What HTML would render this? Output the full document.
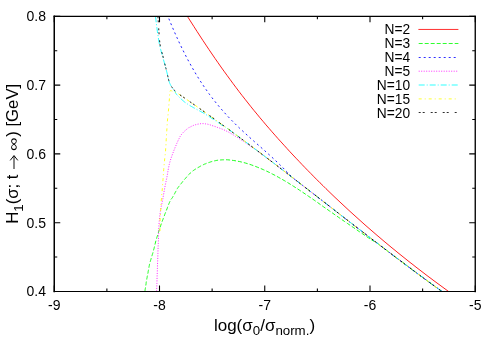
<!DOCTYPE html>
<html><head><meta charset="utf-8"><title>plot</title>
<style>html,body{margin:0;padding:0;background:#fff}svg{display:block;will-change:transform}text{font-family:"Liberation Sans",sans-serif;fill:#000}</style></head><body>
<svg width="498" height="350" viewBox="0 0 498 350">
<rect width="498" height="350" fill="#fff"/>
<defs><clipPath id="c"><rect x="54.2" y="16.4" width="421.0" height="275.1"/></clipPath></defs>
<g clip-path="url(#c)" fill="none" stroke-width="0.88" stroke-linejoin="round">
<path d="M185.0,12.4 L188.0,17.3 L191.0,22.0 L194.0,26.7 L197.0,31.4 L200.0,36.0 L203.0,40.6 L206.0,45.1 L209.0,49.6 L212.0,54.0 L215.0,58.4 L218.0,62.7 L221.0,67.0 L224.0,71.2 L227.0,75.3 L230.0,79.4 L233.0,83.5 L236.0,87.5 L239.0,91.5 L242.0,95.4 L245.0,99.2 L248.0,103.0 L251.0,106.8 L254.0,110.5 L257.0,114.1 L260.0,117.8 L263.0,121.3 L266.0,124.9 L269.0,128.3 L272.0,131.8 L275.0,135.2 L278.0,138.6 L281.0,141.9 L284.0,145.2 L287.0,148.5 L290.0,151.8 L293.0,155.0 L296.0,158.2 L299.0,161.3 L302.0,164.5 L305.0,167.6 L308.0,170.7 L311.0,173.7 L314.0,176.8 L317.0,179.8 L320.0,182.8 L323.0,185.7 L326.0,188.7 L329.0,191.6 L332.0,194.5 L335.0,197.4 L338.0,200.2 L341.0,203.0 L344.0,205.8 L347.0,208.6 L350.0,211.4 L353.0,214.1 L356.0,216.8 L359.0,219.5 L362.0,222.2 L365.0,224.9 L368.0,227.5 L371.0,230.1 L374.0,232.7 L377.0,235.3 L380.0,237.8 L383.0,240.4 L386.0,242.9 L389.0,245.4 L392.0,247.9 L395.0,250.3 L398.0,252.8 L401.0,255.2 L404.0,257.6 L407.0,260.0 L410.0,262.4 L413.0,264.7 L416.0,267.1 L419.0,269.4 L422.0,271.7 L425.0,274.0 L428.0,276.3 L431.0,278.5 L434.0,280.8 L437.0,283.0 L440.0,285.2 L443.0,287.4 L446.0,289.6 L449.0,291.8" stroke="#ff0000"/>
<path d="M144.9,291.4 L145.0,290.7 L145.1,289.8 L145.3,288.7 L145.5,287.5 L145.7,286.2 L145.9,284.9 L146.1,283.6 L146.2,282.3 L146.4,281.1 L146.6,280.1 L146.8,279.2 L146.9,278.3 L147.1,277.5 L147.2,276.7 L147.4,275.9 L147.5,275.1 L147.7,274.4 L147.8,273.7 L148.0,272.9 L148.1,272.1 L148.2,271.3 L148.4,270.5 L148.5,269.6 L148.7,268.8 L148.8,268.0 L149.0,267.2 L149.1,266.4 L149.3,265.6 L149.4,264.8 L149.6,264.0 L149.8,263.3 L150.0,262.5 L150.2,261.8 L150.4,261.1 L150.6,260.4 L150.8,259.7 L151.0,259.1 L151.2,258.4 L151.4,257.7 L151.6,257.0 L151.8,256.3 L152.0,255.7 L152.2,255.0 L152.4,254.4 L152.6,253.7 L152.8,253.1 L153.0,252.4 L153.2,251.7 L153.4,250.9 L153.6,250.1 L153.8,249.2 L154.1,248.3 L154.3,247.3 L154.6,246.2 L154.8,245.2 L155.1,244.1 L155.3,243.1 L155.6,242.0 L155.8,241.0 L156.1,240.1 L156.3,239.2 L156.6,238.4 L156.8,237.6 L157.1,236.8 L157.3,236.0 L157.6,235.2 L157.8,234.4 L158.1,233.6 L158.3,232.8 L158.6,232.0 L158.9,231.1 L159.1,230.3 L159.4,229.5 L159.7,228.6 L160.0,227.7 L160.3,226.9 L160.6,225.9 L160.9,225.0 L161.2,224.0 L161.6,223.0 L162.0,221.9 L162.4,220.8 L162.9,219.6 L163.3,218.4 L163.8,217.1 L164.3,215.9 L164.7,214.6 L165.2,213.4 L165.7,212.2 L166.1,211.1 L166.5,210.0 L167.0,208.9 L167.4,207.7 L167.8,206.6 L168.2,205.6 L168.6,204.5 L169.0,203.5 L169.4,202.6 L169.8,201.8 L170.1,201.0 L170.4,200.4 L170.7,199.9 L170.9,199.5 L171.2,199.1 L171.4,198.9 L171.6,198.6 L171.9,198.3 L172.1,198.0 L172.4,197.6 L172.7,197.1 L173.0,196.5 L173.4,195.8 L173.8,195.1 L174.3,194.3 L174.7,193.5 L175.1,192.7 L175.6,191.9 L175.9,191.2 L176.3,190.6 L176.6,190.0 L176.8,189.6 L177.0,189.2 L177.1,189.0 L177.3,188.8 L177.3,188.6 L177.4,188.4 L177.6,188.2 L177.7,188.0 L178.0,187.6 L178.3,187.2 L178.7,186.7 L179.1,186.1 L179.6,185.4 L180.2,184.7 L180.8,184.0 L181.4,183.3 L182.0,182.5 L182.6,181.7 L183.3,180.9 L183.9,180.2 L184.5,179.4 L185.2,178.7 L185.9,177.9 L186.6,177.0 L187.3,176.2 L188.0,175.4 L188.7,174.6 L189.5,173.9 L190.2,173.2 L190.9,172.5 L191.6,171.9 L192.3,171.3 L193.0,170.8 L193.7,170.3 L194.4,169.8 L195.1,169.4 L195.8,168.9 L196.5,168.5 L197.2,168.0 L198.0,167.6 L198.8,167.1 L199.6,166.7 L200.4,166.2 L201.2,165.8 L202.0,165.4 L202.9,165.0 L203.7,164.5 L204.6,164.1 L205.5,163.8 L206.4,163.4 L207.3,163.0 L208.3,162.7 L209.3,162.4 L210.3,162.0 L211.3,161.7 L212.3,161.4 L213.3,161.2 L214.3,160.9 L215.3,160.7 L216.2,160.5 L217.1,160.3 L218.1,160.2 L219.1,160.1 L220.1,160.0 L221.1,159.9 L222.0,159.9 L222.8,159.8 L223.6,159.8 L224.2,159.7 L224.7,159.7 L227.7,159.8 L230.7,160.1 L233.7,160.5 L236.7,161.0 L239.7,161.6 L242.7,162.3 L245.7,163.1 L248.7,164.0 L251.7,165.0 L254.7,166.1 L257.7,167.3 L260.7,168.5 L263.7,169.8 L266.7,171.2 L269.7,172.6 L272.7,174.2 L275.7,175.7 L278.7,177.4 L281.7,179.1 L284.7,180.8 L287.7,182.6 L290.7,184.5 L293.7,186.4 L296.7,188.3 L299.7,190.3 L302.7,192.3 L305.7,194.3 L308.7,196.4 L311.7,198.4 L314.7,200.5 L317.7,202.6 L320.7,204.8 L323.7,206.9 L326.7,209.0 L329.7,211.1 L332.7,213.2 L335.7,215.3 L338.7,217.4 L341.7,219.5 L344.7,221.6 L347.7,223.6 L350.7,225.7 L353.7,227.7 L356.7,229.8 L359.7,231.9 L362.7,233.9 L365.7,236.0 L368.7,238.0 L371.7,240.1 L376.0,242.2 L379.0,244.5 L382.0,246.8 L385.0,249.1 L388.0,251.4 L391.0,253.7 L394.0,256.0 L397.0,258.2 L400.0,260.5 L403.0,262.7 L406.0,265.0 L409.0,267.2 L412.0,269.5 L415.0,271.7 L418.0,274.0 L421.0,276.2 L424.0,278.4 L427.0,280.6 L430.0,282.8 L433.0,285.0 L436.0,287.2 L439.0,289.3 L442.0,291.5 L445.0,293.7" stroke="#00ff00" stroke-dasharray="4 2"/>
<path d="M167.0,14.0 L169.5,20.3 L172.0,26.3 L174.5,32.1 L177.0,37.7 L179.5,43.1 L182.0,48.3 L184.5,53.3 L187.0,58.2 L189.5,62.8 L192.0,67.3 L194.5,71.6 L197.0,75.8 L199.5,79.8 L202.0,83.6 L204.5,87.3 L207.0,90.9 L209.5,94.4 L212.0,97.7 L214.5,100.9 L217.0,104.0 L219.5,107.0 L222.0,109.9 L224.5,112.7 L227.0,115.5 L229.5,118.1 L232.0,120.7 L234.5,123.2 L237.0,125.7 L239.5,128.1 L242.0,130.4 L244.5,132.7 L247.0,135.0 L249.5,137.3 L252.0,139.5 L254.5,141.7 L257.0,143.9 L259.5,146.1 L262.0,148.3 L264.5,150.5 L267.0,152.8 L269.5,155.0 L272.0,157.3 L274.5,159.6 L277.0,162.0 L279.5,164.4 L282.0,166.8 L284.5,169.4 L287.0,171.9 L289.5,174.6 L294.0,178.8 L297.0,181.1 L300.0,183.4 L303.0,185.7 L306.0,188.1 L309.0,190.4 L312.0,192.7 L315.0,195.0 L318.0,197.4 L321.0,199.7 L324.0,202.0 L327.0,204.3 L330.0,206.7 L333.0,209.0 L336.0,211.3 L339.0,213.7 L342.0,216.0 L345.0,218.3 L348.0,220.6 L351.0,223.0 L354.0,225.3 L357.0,227.6 L360.0,229.9 L363.0,232.2 L366.0,234.5 L369.0,236.9 L372.0,239.2 L375.0,241.5 L378.0,243.8 L381.0,246.1 L384.0,248.4 L387.0,250.6 L390.0,252.9 L393.0,255.2 L396.0,257.5 L399.0,259.7 L402.0,262.0 L405.0,264.3 L408.0,266.5 L411.0,268.7 L414.0,271.0 L417.0,273.2 L420.0,275.4 L423.0,277.6 L426.0,279.9 L429.0,282.1 L432.0,284.2 L435.0,286.4 L438.0,288.6 L441.0,290.8 L444.0,292.9" stroke="#0000ff" stroke-dasharray="2 3"/>
<path d="M156.6,291.4 L156.7,289.3 L156.8,286.7 L156.9,283.5 L157.0,280.0 L157.1,276.2 L157.3,272.2 L157.4,268.2 L157.5,264.3 L157.7,260.5 L157.8,257.0 L157.9,253.6 L158.0,250.2 L158.1,246.7 L158.3,243.2 L158.4,239.8 L158.5,236.5 L158.6,233.3 L158.7,230.3 L158.9,227.5 L159.0,225.0 L159.1,222.8 L159.3,220.8 L159.4,219.1 L159.6,217.6 L159.8,216.2 L159.9,214.9 L160.1,213.7 L160.2,212.5 L160.4,211.3 L160.6,210.1 L160.8,208.9 L161.0,207.8 L161.2,206.8 L161.4,205.8 L161.6,204.8 L161.8,203.9 L162.0,203.0 L162.2,202.0 L162.4,201.0 L162.6,200.0 L162.8,198.9 L163.0,197.8 L163.2,196.7 L163.4,195.5 L163.6,194.4 L163.8,193.2 L164.0,192.0 L164.2,190.8 L164.4,189.7 L164.6,188.5 L164.8,187.3 L165.1,186.2 L165.3,185.0 L165.5,183.9 L165.8,182.7 L166.0,181.6 L166.3,180.4 L166.5,179.2 L166.8,178.0 L167.0,176.7 L167.2,175.4 L167.5,174.1 L167.7,172.7 L167.9,171.3 L168.2,169.9 L168.4,168.5 L168.7,167.1 L169.0,165.7 L169.3,164.4 L169.6,163.0 L170.0,161.7 L170.4,160.3 L170.8,159.0 L171.3,157.6 L171.7,156.3 L172.2,155.0 L172.7,153.7 L173.2,152.4 L173.6,151.2 L174.1,150.0 L174.6,148.8 L175.0,147.7 L175.5,146.5 L176.0,145.4 L176.4,144.3 L176.9,143.2 L177.4,142.2 L177.8,141.2 L178.2,140.3 L178.6,139.5 L179.0,138.8 L179.3,138.1 L179.6,137.5 L179.8,137.0 L180.1,136.5 L180.4,136.1 L180.6,135.6 L180.9,135.2 L181.2,134.8 L181.6,134.3 L182.0,133.8 L182.4,133.3 L182.9,132.8 L183.3,132.4 L183.8,131.9 L184.3,131.4 L184.7,131.0 L185.2,130.6 L185.7,130.2 L186.1,129.8 L186.5,129.4 L186.9,129.1 L187.3,128.8 L187.7,128.5 L188.1,128.2 L188.5,128.0 L188.8,127.7 L189.2,127.5 L189.7,127.2 L190.1,127.0 L190.6,126.8 L191.0,126.5 L191.5,126.3 L192.0,126.1 L192.5,125.9 L193.0,125.6 L193.5,125.4 L194.0,125.3 L194.6,125.1 L195.1,124.9 L195.7,124.7 L196.3,124.6 L196.9,124.4 L197.5,124.2 L198.2,124.1 L198.8,124.0 L199.4,123.8 L200.0,123.7 L200.6,123.7 L201.2,123.6 L201.7,123.6 L202.3,123.6 L202.8,123.6 L203.3,123.6 L203.8,123.6 L204.3,123.7 L204.7,123.8 L205.2,123.8 L205.7,123.9 L206.2,124.0 L206.7,124.1 L207.0,124.1 L207.4,124.2 L207.7,124.2 L208.1,124.3 L208.5,124.4 L209.0,124.5 L209.5,124.7 L210.2,124.9 L211.1,125.2 L212.1,125.6 L213.4,126.0 L214.7,126.4 L216.2,126.9 L217.7,127.5 L219.3,128.0 L220.8,128.6 L222.3,129.2 L223.8,129.8 L225.1,130.4 L226.3,131.0 L227.6,131.6 L228.7,132.2 L229.9,132.9 L231.0,133.5 L232.1,134.2 L233.2,134.8 L234.3,135.5 L235.3,136.2 L236.4,136.8 L237.5,137.5 L238.5,138.1 L239.6,138.8 L240.6,139.5 L241.6,140.1 L242.6,140.8 L243.6,141.4 L244.5,142.1 L245.4,142.7 L246.2,143.2 L247.0,143.7 L247.7,144.2 L248.4,144.7 L249.1,145.2 L249.7,145.6 L250.3,146.1 L250.8,146.4 L251.3,146.8 L251.7,147.1 L252.0,147.3 L255.0,149.0 L258.0,151.3 L261.0,153.5 L264.0,155.8 L267.0,158.1 L270.0,160.4 L273.0,162.6 L276.0,164.9 L279.0,167.2 L282.0,169.5 L285.0,171.8 L288.0,174.1 L291.0,176.5 L294.0,178.8 L297.0,181.1 L300.0,183.4 L303.0,185.7 L306.0,188.1 L309.0,190.4 L312.0,192.7 L315.0,195.0 L318.0,197.4 L321.0,199.7 L324.0,202.0 L327.0,204.3 L330.0,206.7 L333.0,209.0 L336.0,211.3 L339.0,213.7 L342.0,216.0 L345.0,218.3 L348.0,220.6 L351.0,223.0 L354.0,225.3 L357.0,227.6 L360.0,229.9 L363.0,232.2 L366.0,234.5 L369.0,236.9 L372.0,239.2 L375.0,241.5 L378.0,243.8 L381.0,246.1 L384.0,248.4 L387.0,250.6 L390.0,252.9 L393.0,255.2 L396.0,257.5 L399.0,259.7 L402.0,262.0 L405.0,264.3 L408.0,266.5 L411.0,268.7 L414.0,271.0 L417.0,273.2 L420.0,275.4 L423.0,277.6 L426.0,279.9 L429.0,282.1 L432.0,284.2 L435.0,286.4 L438.0,288.6 L441.0,290.8 L444.0,292.9" stroke="#ff00ff" stroke-dasharray="1 1.5"/>
<path d="M155.5,16.3 L155.6,17.1 L155.7,18.1 L155.9,19.4 L156.0,20.7 L156.2,22.2 L156.4,23.8 L156.6,25.4 L156.8,27.0 L157.0,28.5 L157.2,30.0 L157.4,31.5 L157.6,33.0 L157.9,34.6 L158.1,36.1 L158.3,37.7 L158.6,39.3 L158.8,40.8 L159.1,42.3 L159.3,43.7 L159.6,45.0 L159.9,46.2 L160.1,47.3 L160.4,48.4 L160.6,49.4 L160.9,50.3 L161.1,51.2 L161.4,52.2 L161.7,53.1 L161.9,54.0 L162.2,55.0 L162.5,56.0 L162.8,57.0 L163.0,58.1 L163.3,59.1 L163.6,60.2 L163.9,61.2 L164.2,62.2 L164.5,63.2 L164.7,64.2 L165.0,65.1 L165.2,66.0 L165.5,66.8 L165.7,67.7 L165.9,68.5 L166.1,69.3 L166.3,70.0 L166.5,70.8 L166.7,71.6 L166.9,72.3 L167.1,73.1 L167.3,73.9 L167.5,74.7 L167.6,75.5 L167.8,76.2 L168.0,77.0 L168.1,77.8 L168.3,78.5 L168.5,79.2 L168.6,79.9 L168.8,80.5 L169.0,81.1 L169.1,81.6 L169.3,82.1 L169.5,82.6 L169.7,83.0 L169.8,83.4 L170.0,83.8 L170.2,84.2 L170.4,84.6 L170.6,85.0 L170.8,85.4 L171.0,85.8 L171.2,86.1 L171.5,86.5 L171.7,86.8 L171.9,87.2 L172.1,87.5 L172.4,87.8 L172.6,88.2 L172.8,88.5 L173.0,88.8 L173.2,89.1 L173.5,89.4 L173.7,89.7 L173.9,90.0 L174.1,90.4 L174.3,90.7 L174.6,91.0 L174.8,91.3 L175.0,91.6 L175.2,91.9 L175.3,92.2 L175.5,92.5 L175.6,92.8 L175.8,93.1 L175.9,93.5 L176.1,93.8 L176.4,94.2 L176.7,94.6 L177.1,95.1 L177.6,95.6 L178.2,96.2 L178.9,96.9 L179.6,97.6 L180.4,98.3 L181.1,99.0 L181.9,99.7 L182.7,100.4 L183.4,101.0 L184.1,101.6 L184.7,102.1 L185.4,102.6 L186.0,103.0 L186.6,103.4 L187.2,103.8 L187.7,104.2 L188.3,104.6 L188.9,104.9 L189.4,105.3 L190.0,105.6 L190.5,105.9 L191.0,106.2 L191.5,106.5 L192.0,106.8 L192.4,107.0 L192.9,107.3 L193.4,107.6 L193.9,107.9 L194.5,108.2 L195.2,108.6 L195.9,109.0 L196.7,109.4 L197.6,109.9 L198.5,110.3 L199.4,110.8 L200.3,111.3 L201.2,111.8 L202.2,112.3 L203.2,112.9 L204.1,113.4 L205.1,114.0 L206.0,114.6 L207.0,115.2 L208.0,115.9 L209.1,116.5 L210.1,117.2 L211.1,117.8 L212.0,118.5 L213.0,119.1 L213.9,119.7 L214.8,120.3 L215.8,120.9 L216.7,121.6 L217.7,122.2 L218.6,122.8 L219.4,123.4 L220.2,124.0 L220.9,124.5 L221.5,124.9 L222.0,125.2 L225.0,126.7 L228.0,128.9 L231.0,131.1 L234.0,133.3 L237.0,135.5 L240.0,137.8 L243.0,140.0 L246.0,142.2 L249.0,144.5 L252.0,146.7 L255.0,149.0 L258.0,151.3 L261.0,153.5 L264.0,155.8 L267.0,158.1 L270.0,160.4 L273.0,162.6 L276.0,164.9 L279.0,167.2 L282.0,169.5 L285.0,171.8 L288.0,174.1 L291.0,176.5 L294.0,178.8 L297.0,181.1 L300.0,183.4 L303.0,185.7 L306.0,188.1 L309.0,190.4 L312.0,192.7 L315.0,195.0 L318.0,197.4 L321.0,199.7 L324.0,202.0 L327.0,204.3 L330.0,206.7 L333.0,209.0 L336.0,211.3 L339.0,213.7 L342.0,216.0 L345.0,218.3 L348.0,220.6 L351.0,223.0 L354.0,225.3 L357.0,227.6 L360.0,229.9 L363.0,232.2 L366.0,234.5 L369.0,236.9 L372.0,239.2 L375.0,241.5 L378.0,243.8 L381.0,246.1 L384.0,248.4 L387.0,250.6 L390.0,252.9 L393.0,255.2 L396.0,257.5 L399.0,259.7 L402.0,262.0 L405.0,264.3 L408.0,266.5 L411.0,268.7 L414.0,271.0 L417.0,273.2 L420.0,275.4 L423.0,277.6 L426.0,279.9 L429.0,282.1 L432.0,284.2 L435.0,286.4 L438.0,288.6 L441.0,290.8 L444.0,292.9" stroke="#00ffff" stroke-dasharray="6 2 1 2"/>
<path d="M160.0,231.0 L160.0,230.3 L160.0,229.5 L160.0,228.5 L160.0,227.3 L160.0,226.1 L160.0,224.9 L160.0,223.6 L160.0,222.3 L160.1,221.1 L160.1,220.0 L160.1,219.0 L160.2,217.9 L160.2,216.9 L160.3,215.9 L160.4,214.9 L160.4,214.0 L160.5,213.0 L160.6,212.0 L160.6,211.0 L160.7,210.0 L160.8,209.0 L160.8,208.0 L160.9,207.0 L160.9,206.0 L161.0,205.0 L161.0,204.0 L161.1,203.0 L161.2,202.0 L161.2,201.0 L161.3,200.0 L161.4,199.0 L161.5,198.0 L161.5,197.1 L161.6,196.1 L161.7,195.1 L161.8,194.1 L161.9,193.1 L162.0,192.1 L162.1,191.1 L162.2,190.0 L162.3,188.9 L162.4,187.8 L162.5,186.6 L162.6,185.5 L162.6,184.3 L162.7,183.1 L162.8,181.9 L162.9,180.7 L163.0,179.4 L163.1,178.1 L163.2,176.8 L163.3,175.4 L163.4,174.0 L163.5,172.6 L163.6,171.2 L163.7,169.7 L163.8,168.3 L164.0,166.8 L164.1,165.4 L164.2,164.0 L164.3,162.6 L164.5,161.3 L164.6,160.0 L164.7,158.7 L164.9,157.4 L165.0,156.0 L165.2,154.6 L165.3,153.2 L165.5,151.6 L165.6,150.0 L165.7,148.2 L165.9,146.2 L166.0,144.2 L166.1,142.0 L166.2,139.8 L166.4,137.6 L166.5,135.5 L166.6,133.5 L166.7,131.7 L166.8,130.1 L166.9,128.7 L167.0,127.5 L167.0,126.3 L167.1,125.3 L167.2,124.4 L167.2,123.6 L167.3,122.7 L167.3,121.9 L167.4,121.0 L167.5,120.0 L167.6,119.0 L167.7,118.0 L167.8,117.0 L167.9,116.0 L168.0,115.0 L168.1,114.0 L168.2,113.0 L168.3,112.0 L168.4,111.0 L168.5,110.0 L168.6,109.0 L168.7,108.0 L168.8,107.0 L168.8,105.9 L168.9,104.9 L169.0,103.9 L169.1,102.9 L169.1,101.9 L169.2,101.0 L169.3,100.0 L169.4,99.0 L169.4,98.0 L169.5,97.0 L169.5,95.9 L169.6,94.9 L169.7,94.0 L169.7,93.1 L169.8,92.3 L170.0,91.6 L170.1,91.1 L170.3,90.7 L170.5,90.5 L170.7,90.5 L170.9,90.5 L171.2,90.6 L171.4,90.7 L171.7,90.9 L171.9,91.1 L172.2,91.2 L172.5,91.3 L172.8,91.4 L173.1,91.5 L173.5,91.6 L173.8,91.8 L174.2,91.9 L174.5,92.1 L174.9,92.2 L175.2,92.3 L175.4,92.4 L175.6,92.5 L178.0,93.5 L181.0,95.6 L184.0,97.6 L187.0,99.7 L190.0,101.8 L193.0,103.9 L196.0,105.9 L199.0,108.1 L202.0,110.2 L205.0,112.3 L208.0,114.4 L211.0,116.6 L214.0,118.7 L217.0,120.9 L220.0,123.1 L223.0,125.3 L226.0,127.4 L229.0,129.6 L232.0,131.9 L235.0,134.1 L238.0,136.3 L241.0,138.5 L244.0,140.7 L247.0,143.0 L250.0,145.2 L253.0,147.5 L256.0,149.7 L259.0,152.0 L262.0,154.3 L265.0,156.6 L268.0,158.8 L271.0,161.1 L274.0,163.4 L277.0,165.7 L280.0,168.0 L283.0,170.3 L286.0,172.6 L289.0,174.9 L292.0,177.2 L295.0,179.5 L298.0,181.9 L301.0,184.2 L304.0,186.5 L307.0,188.8 L310.0,191.2 L313.0,193.5 L316.0,195.8 L319.0,198.1 L322.0,200.5 L325.0,202.8 L328.0,205.1 L331.0,207.4 L334.0,209.8 L337.0,212.1 L340.0,214.4 L343.0,216.8 L346.0,219.1 L349.0,221.4 L352.0,223.7 L355.0,226.1 L358.0,228.4 L361.0,230.7 L364.0,233.0 L367.0,235.3 L370.0,237.6 L373.0,239.9 L376.0,242.2 L379.0,244.5 L382.0,246.8 L385.0,249.1 L388.0,251.4 L391.0,253.7 L394.0,256.0 L397.0,258.2 L400.0,260.5 L403.0,262.7 L406.0,265.0 L409.0,267.2 L412.0,269.5 L415.0,271.7 L418.0,274.0 L421.0,276.2 L424.0,278.4 L427.0,280.6 L430.0,282.8 L433.0,285.0 L436.0,287.2 L439.0,289.3 L442.0,291.5 L445.0,293.7" stroke="#ffff00" stroke-dasharray="3 3 1 3"/>
<path d="M157.9,16.3 L158.0,17.1 L158.0,18.1 L158.1,19.4 L158.2,20.7 L158.3,22.2 L158.4,23.8 L158.5,25.4 L158.6,27.0 L158.7,28.5 L158.8,30.0 L158.9,31.5 L159.0,33.0 L159.1,34.6 L159.2,36.1 L159.4,37.7 L159.5,39.3 L159.6,40.8 L159.8,42.3 L159.9,43.7 L160.1,45.0 L160.3,46.2 L160.5,47.3 L160.8,48.4 L161.0,49.4 L161.3,50.3 L161.5,51.2 L161.8,52.2 L162.1,53.1 L162.3,54.0 L162.6,55.0 L162.9,56.0 L163.1,57.0 L163.4,58.1 L163.6,59.1 L163.9,60.2 L164.1,61.2 L164.4,62.2 L164.6,63.2 L164.9,64.2 L165.1,65.1 L165.3,66.0 L165.5,66.8 L165.7,67.7 L166.0,68.5 L166.1,69.3 L166.3,70.0 L166.5,70.8 L166.7,71.6 L166.9,72.3 L167.1,73.1 L167.3,73.9 L167.5,74.7 L167.6,75.5 L167.8,76.2 L168.0,77.0 L168.1,77.8 L168.3,78.5 L168.5,79.2 L168.6,79.9 L168.8,80.5 L169.0,81.1 L169.1,81.6 L169.3,82.1 L169.5,82.6 L169.7,83.0 L169.8,83.4 L170.0,83.8 L170.2,84.2 L170.4,84.6 L170.6,85.0 L170.8,85.4 L171.0,85.7 L171.2,86.1 L171.4,86.4 L171.6,86.7 L171.9,87.0 L172.1,87.3 L172.3,87.7 L172.6,88.0 L172.8,88.3 L173.1,88.6 L173.4,89.0 L173.7,89.4 L174.0,89.8 L174.3,90.2 L174.7,90.5 L174.9,90.9 L175.2,91.2 L175.4,91.4 L175.6,91.6 L178.0,93.5 L181.0,95.6 L184.0,97.6 L187.0,99.7 L190.0,101.8 L193.0,103.9 L196.0,105.9 L199.0,108.1 L202.0,110.2 L205.0,112.3 L208.0,114.4 L211.0,116.6 L214.0,118.7 L217.0,120.9 L220.0,123.1 L223.0,125.3 L226.0,127.4 L229.0,129.6 L232.0,131.9 L235.0,134.1 L238.0,136.3 L241.0,138.5 L244.0,140.7 L247.0,143.0 L250.0,145.2 L253.0,147.5 L256.0,149.7 L259.0,152.0 L262.0,154.3 L265.0,156.6 L268.0,158.8 L271.0,161.1 L274.0,163.4 L277.0,165.7 L280.0,168.0 L283.0,170.3 L286.0,172.6 L289.0,174.9 L292.0,177.2 L295.0,179.5 L298.0,181.9 L301.0,184.2 L304.0,186.5 L307.0,188.8 L310.0,191.2 L313.0,193.5 L316.0,195.8 L319.0,198.1 L322.0,200.5 L325.0,202.8 L328.0,205.1 L331.0,207.4 L334.0,209.8 L337.0,212.1 L340.0,214.4 L343.0,216.8 L346.0,219.1 L349.0,221.4 L352.0,223.7 L355.0,226.1 L358.0,228.4 L361.0,230.7 L364.0,233.0 L367.0,235.3 L370.0,237.6 L373.0,239.9 L376.0,242.2 L379.0,244.5 L382.0,246.8 L385.0,249.1 L388.0,251.4 L391.0,253.7 L394.0,256.0 L397.0,258.2 L400.0,260.5 L403.0,262.7 L406.0,265.0 L409.0,267.2 L412.0,269.5 L415.0,271.7 L418.0,274.0 L421.0,276.2 L424.0,278.4 L427.0,280.6 L430.0,282.8 L433.0,285.0 L436.0,287.2 L439.0,289.3 L442.0,291.5 L445.0,293.7" stroke="#000000" stroke-dasharray="2 2 2 6"/>
</g>
<g stroke="#000" fill="none" stroke-linecap="square">
<path d="M54.25,16.35 H475.25" stroke-width="1.3"/>
<path d="M54.25,291.45 H475.25" stroke-width="1.1"/>
<path d="M54.25,16.35 V291.45" stroke-width="1.5"/>
<path d="M475.25,16.35 V291.45" stroke-width="1.35"/>
</g>
<path d="M54.25,291.45 v-6.0 M54.25,16.35 v6.0 M106.88,291.45 v-3.0 M106.88,16.35 v3.0 M159.50,291.45 v-6.0 M159.50,16.35 v6.0 M212.12,291.45 v-3.0 M212.12,16.35 v3.0 M264.75,291.45 v-6.0 M264.75,16.35 v6.0 M317.38,291.45 v-3.0 M317.38,16.35 v3.0 M370.00,291.45 v-6.0 M370.00,16.35 v6.0 M422.62,291.45 v-3.0 M422.62,16.35 v3.0 M475.25,291.45 v-6.0 M475.25,16.35 v6.0 M54.25,16.35 h6.0 M475.25,16.35 h-6.0 M54.25,50.74 h3.0 M475.25,50.74 h-3.0 M54.25,85.12 h6.0 M475.25,85.12 h-6.0 M54.25,119.51 h3.0 M475.25,119.51 h-3.0 M54.25,153.90 h6.0 M475.25,153.90 h-6.0 M54.25,188.29 h3.0 M475.25,188.29 h-3.0 M54.25,222.67 h6.0 M475.25,222.67 h-6.0 M54.25,257.06 h3.0 M475.25,257.06 h-3.0 M54.25,291.45 h6.0 M475.25,291.45 h-6.0" stroke="#000" stroke-width="1.08" fill="none"/>
<g font-size="14">
<text x="54.2" y="310" text-anchor="middle">-9</text>
<text x="159.5" y="310" text-anchor="middle">-8</text>
<text x="264.8" y="310" text-anchor="middle">-7</text>
<text x="370.0" y="310" text-anchor="middle">-6</text>
<text x="475.2" y="310" text-anchor="middle">-5</text>
<text x="46" y="21.2" text-anchor="end">0.8</text>
<text x="46" y="90.0" text-anchor="end">0.7</text>
<text x="46" y="158.8" text-anchor="end">0.6</text>
<text x="46" y="227.6" text-anchor="end">0.5</text>
<text x="46" y="296.3" text-anchor="end">0.4</text>
<text x="410.1" y="34.4" text-anchor="end" font-size="13.75">N=2</text>
<text x="410.1" y="48.3" text-anchor="end" font-size="13.75">N=3</text>
<text x="410.1" y="62.2" text-anchor="end" font-size="13.75">N=4</text>
<text x="410.1" y="76.1" text-anchor="end" font-size="13.75">N=5</text>
<text x="410.1" y="90.0" text-anchor="end" font-size="13.75">N=10</text>
<text x="410.1" y="103.9" text-anchor="end" font-size="13.75">N=15</text>
<text x="410.1" y="117.8" text-anchor="end" font-size="13.75">N=20</text>
</g>
<g fill="none" stroke-width="0.82">
<path d="M418.4,29.45 H458.4" stroke="#ff0000"/>
<path d="M418.7,43.50 H458.4" stroke="#00ff00" stroke-dasharray="4 2"/>
<path d="M418.7,57.50 H458.4" stroke="#0000ff" stroke-dasharray="2 3"/>
<path d="M418.7,71.20 H458.4" stroke="#ff00ff" stroke-dasharray="1 1.5"/>
<path d="M418.7,85.00 H458.4" stroke="#00ffff" stroke-dasharray="6 2 1 2"/>
<path d="M418.7,98.90 H458.4" stroke="#ffff00" stroke-dasharray="3 3 1 3"/>
<path d="M418.7,112.50 H458.4" stroke="#000000" stroke-dasharray="2 2 2 6"/>
</g>
<text x="264.5" y="330.6" font-size="17" text-anchor="middle">log(σ<tspan font-size="13.3" dy="4.8">0</tspan><tspan dy="-4.8">/σ</tspan><tspan font-size="13.3" dy="4.8">norm.</tspan><tspan dy="-4.8">)</tspan></text>
<g transform="translate(17.7,153.8) rotate(-90)" font-size="16.7">
<text x="-69.98" y="0">H<tspan font-size="13.3" dy="5">1</tspan><tspan dy="-5">(σ; t</tspan></text>
<path d="M-15.2,-3.7 H-2 M-6.6,-7.5 L-1.8,-3.7 L-6.6,0.1" fill="none" stroke="#000" stroke-width="0.95" stroke-linejoin="miter"/>
<text transform="translate(2.5,0.2) scale(1.15,0.86)" x="0" y="0">∞</text>
<text x="17.1" y="0">) [GeV]</text>
</g>
</svg></body></html>
